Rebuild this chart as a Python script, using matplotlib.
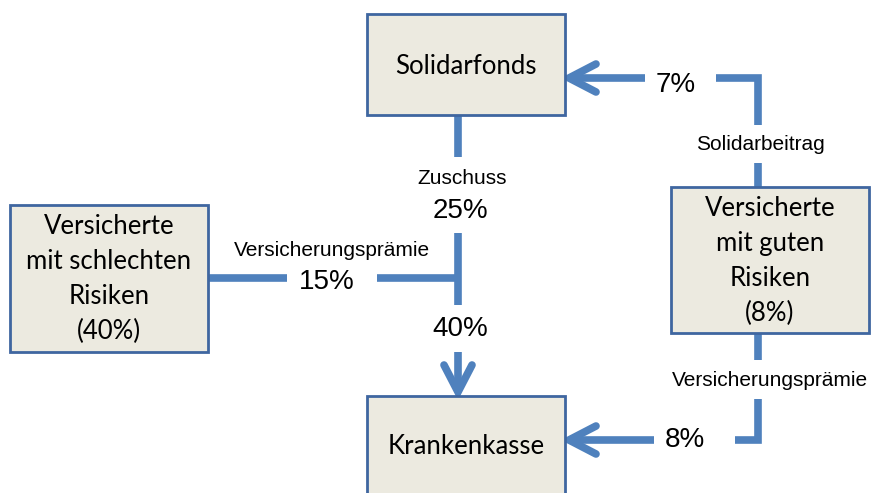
import matplotlib.pyplot as plt
from matplotlib.patches import Rectangle

# node labels
box_labels = ["Solidarfonds", "Versicherte\nmit schlechten\nRisiken\n(40%)",
              "Versicherte\nmit guten\nRisiken\n(8%)", "Krankenkasse"]
# flow labels
flow_names = ["Zuschuss", "Versicherungsprämie", "Solidarbeitrag", "Versicherungsprämie"]
flow_shares = ["25%", "15%", "7%", "8%", "40%"]

BLUE = "#4F81BD"
EDGE = "#3F66A0"
FILL = "#ECEAE0"
BOX_FONT = "Lato"
LBL_FONT = "Liberation Sans"

# box geometry in pixel coords (x0, y0, x1, y1)
boxes = [(367, 14, 565, 115), (10, 205, 208, 352), (671, 187, 869, 333), (367, 396, 565, 510)]
text_y = [67, 279, 261, 447]

fig = plt.figure(figsize=(8.74, 4.93), dpi=100)
ax = fig.add_axes([0, 0, 1, 1])
ax.set_xlim(0, 874)
ax.set_ylim(493, 0)
ax.axis("off")

for (x0, y0, x1, y1), lab, cy in zip(boxes, box_labels, text_y):
    ax.add_patch(Rectangle((x0, y0), x1 - x0, y1 - y0, facecolor=FILL,
                           edgecolor=EDGE, linewidth=2, zorder=3))
    ax.text((x0 + x1) / 2, cy, lab, ha="center", va="center", fontsize=18.5,
            family=BOX_FONT, linespacing=1.5, zorder=4)


def seg(xs, ys):
    ax.plot(xs, ys, color=BLUE, lw=5.5, solid_capstyle="butt",
            solid_joinstyle="miter", zorder=2)


def head(tx, ty, direction):
    if direction == "left":
        xs, ys = [tx + 29, tx + 2, tx + 29], [ty - 14, ty, ty + 14]
    else:
        xs, ys = [tx - 14, tx, tx + 14], [ty - 29, ty - 2, ty - 29]
    ax.plot(xs, ys, color=BLUE, lw=5.5, solid_capstyle="round",
            solid_joinstyle="miter", zorder=2)


# centre column
seg([458, 458], [115, 157])
seg([458, 458], [233, 305])
seg([208, 287], [278, 278])
seg([377, 458], [278, 278])
seg([458, 458], [352, 392])
head(458, 394, "down")

# right top
seg([758, 758], [187, 163])
seg([758, 758, 716], [125, 78, 78])
seg([645, 569], [78, 78])
head(567, 78, "left")

# right bottom
seg([758, 758], [333, 360])
seg([758, 758, 735], [399, 440, 440])
seg([654, 569], [440, 440])
head(567, 440, "left")

# flow labels
ax.text(462, 179, flow_names[0], ha="center", va="center", fontsize=15, family=LBL_FONT)
ax.text(460, 211, flow_shares[0], ha="center", va="center", fontsize=20, family=LBL_FONT)
ax.text(332, 250, flow_names[1], ha="center", va="center", fontsize=15, family=LBL_FONT)
ax.text(327, 282, flow_shares[1], ha="center", va="center", fontsize=20, family=LBL_FONT)
ax.text(760, 145, flow_names[2], ha="center", va="center", fontsize=15, family=LBL_FONT)
ax.text(676, 85, flow_shares[2], ha="center", va="center", fontsize=20, family=LBL_FONT)
ax.text(770, 381, flow_names[3], ha="center", va="center", fontsize=15, family=LBL_FONT)
ax.text(685, 440, flow_shares[3], ha="center", va="center", fontsize=20, family=LBL_FONT)
ax.text(460, 329, flow_shares[4], ha="center", va="center", fontsize=20, family=LBL_FONT)

fig.savefig("out.png", dpi=100, facecolor="white")
